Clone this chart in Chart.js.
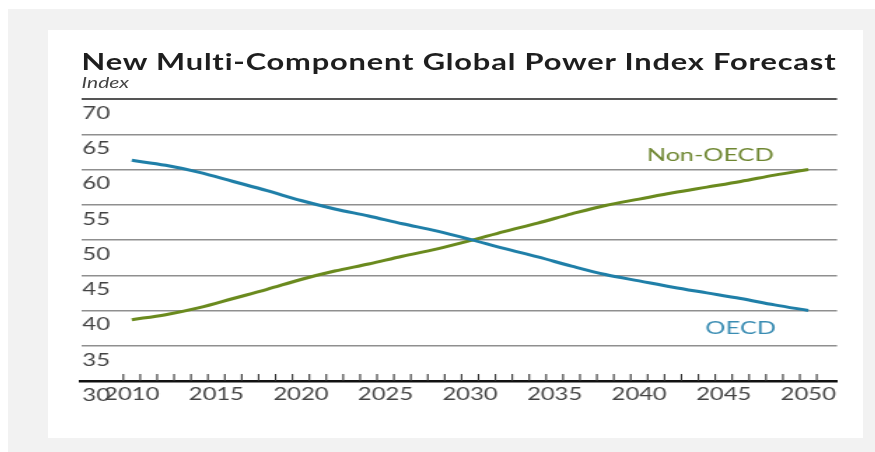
<!DOCTYPE html>
<html>
<head>
<meta charset="utf-8">
<script src="https://cdn.jsdelivr.net/npm/chart.js@4.4.1/dist/chart.umd.min.js"></script>
<style>
  html, body { margin: 0; padding: 0; background: #fff; }
  #frame { position: absolute; left: 8px; top: 9px; width: 867px; height: 443px; background: #f2f2f2; }
  #panel { position: absolute; left: 40px; top: 21px; width: 815px; height: 408px; background: #fff; overflow: hidden; }
  /* the whole figure is set a little wide */
  #stretch { position: absolute; left: 0; top: 0; width: 582px; height: 408px; transform: scaleX(1.4); transform-origin: 0 0; }
  #chart { position: absolute; left: 0; top: 0; }
  .title { position: absolute; left: 24px; top: 21px; margin: 0; font: bold 22px/1 Lato, sans-serif; letter-spacing: 0.6px; color: #1e1e1e; white-space: nowrap; }
  .unit { position: absolute; left: 24px; top: 45px; margin: 0; font: italic 15px/1 Lato, sans-serif; color: #444; }
</style>
</head>
<body>
<div id="frame">
  <div id="panel">
    <div id="stretch">
      <h1 class="title">New Multi-Component Global Power Index Forecast</h1>
      <div class="unit">Index</div>
      <canvas id="chart" width="582" height="408"></canvas>
    </div>
  </div>
</div>
<script>
const years = [2010, 2012, 2014, 2016, 2018, 2020, 2022, 2024, 2026, 2028, 2030,
               2032, 2034, 2036, 2038, 2040, 2042, 2044, 2046, 2048, 2050];
const oecd = [61.3, 60.6, 59.6, 58.3, 57.0, 55.6, 54.4, 53.4, 52.3, 51.3, 50.1,
              48.8, 47.6, 46.3, 45.1, 44.2, 43.3, 42.5, 41.7, 40.8, 40.0];
const nonOecd = [38.7, 39.4, 40.4, 41.7, 43.0, 44.4, 45.6, 46.6, 47.7, 48.7, 49.9,
                 51.2, 52.4, 53.7, 54.9, 55.8, 56.7, 57.5, 58.3, 59.2, 60.0];
const yearLabels = [2010, 2015, 2020, 2025, 2030, 2035, 2040, 2045, 2050];
const indexTicks = [30, 35, 40, 45, 50, 55, 60, 65, 70];

const BLUE = '#1f7fa8';
const GREEN = '#6a8a1e';

// series names written next to the lines, placed in data units
const seriesLabels = [
  { text: 'Non-OECD', x: 2044.2, y: 62.0, color: '#6f8732' },
  { text: 'OECD', x: 2046.0, y: 37.5, color: '#3b8db3' }
];

const toPoints = vals => years.map((yr, i) => ({ x: yr, y: vals[i] }));

// small yearly ticks sitting on top of the x axis line
const yearTicks = {
  id: 'yearTicks',
  afterDraw(chart) {
    const { ctx, scales: { x }, chartArea } = chart;
    ctx.save();
    ctx.strokeStyle = '#333';
    ctx.lineWidth = 1.1;
    for (let yr = years[0] - 0.5; yr <= years[years.length - 1] + 0.5; yr++) {
      const px = x.getPixelForValue(yr);
      ctx.beginPath();
      ctx.moveTo(px, chartArea.bottom);
      ctx.lineTo(px, chartArea.bottom - 7);
      ctx.stroke();
    }
    ctx.restore();
  }
};

const lineNames = {
  id: 'lineNames',
  afterDatasetsDraw(chart) {
    const { ctx, scales: { x, y } } = chart;
    ctx.save();
    ctx.font = '18px Lato, sans-serif';
    ctx.textAlign = 'center';
    ctx.textBaseline = 'middle';
    seriesLabels.forEach(l => {
      ctx.fillStyle = l.color;
      ctx.fillText(l.text, x.getPixelForValue(l.x), y.getPixelForValue(l.y));
    });
    ctx.restore();
  }
};

new Chart(document.getElementById('chart'), {
  type: 'line',
  data: {
    datasets: [
      { label: 'OECD', data: toPoints(oecd), borderColor: BLUE, borderWidth: 3,
        pointRadius: 0, cubicInterpolationMode: 'monotone' },
      { label: 'Non-OECD', data: toPoints(nonOecd), borderColor: GREEN, borderWidth: 3,
        pointRadius: 0, cubicInterpolationMode: 'monotone' }
    ]
  },
  options: {
    responsive: false,
    animation: false,
    layout: { padding: { left: 21.6, right: 18.4, top: 69, bottom: 30.6 } },
    plugins: { legend: { display: false }, tooltip: { enabled: false } },
    scales: {
      x: {
        type: 'linear',
        min: 2007,
        max: 2051.7,
        afterBuildTicks: s => { s.ticks = yearLabels.map(v => ({ value: v })); },
        grid: { display: false, drawTicks: false },
        border: { display: true, color: '#111', width: 2.5 },
        ticks: {
          color: '#444', padding: 3, maxRotation: 0, autoSkip: false,
          font: { family: 'Lato', size: 17 },
          callback: v => String(v)
        }
      },
      y: {
        min: 30,
        max: 70,
        afterBuildTicks: s => { s.ticks = indexTicks.map(v => ({ value: v })); },
        border: { display: false },
        grid: {
          drawTicks: false,
          color: c => c.tick.value === 70 ? '#555' : (c.tick.value === 30 ? 'rgba(0,0,0,0)' : '#8f8f8f'),
          lineWidth: c => c.tick.value === 70 ? 2 : 1.5
        },
        ticks: {
          mirror: true, padding: 1, labelOffset: 14.5,
          color: '#444',
          font: { family: 'Lato', size: 17 }
        }
      }
    }
  },
  plugins: [yearTicks, lineNames]
});
</script>
</body>
</html>
